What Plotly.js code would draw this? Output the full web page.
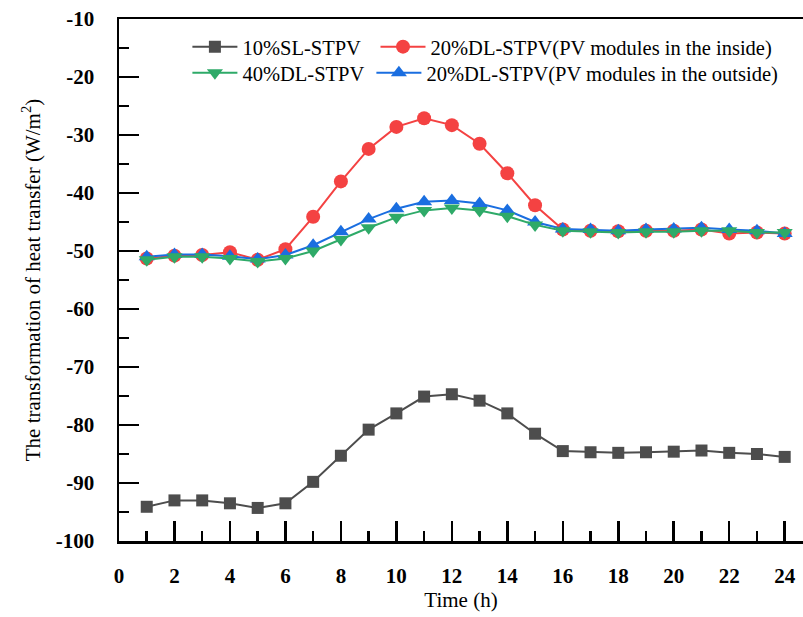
<!DOCTYPE html>
<html>
<head>
<meta charset="utf-8">
<script src="https://cdn.plot.ly/plotly-3.0.1.min.js"></script>
<style>html,body{margin:0;padding:0;background:#fff;}#chart{width:803px;height:617px;}</style>
</head>
<body>
<div id="chart"></div>
<script>
const hours = [1,2,3,4,5,6,7,8,9,10,11,12,13,14,15,16,17,18,19,20,21,22,23,24];
const sl10 = [-94.1,-93.0,-93.0,-93.5,-94.3,-93.5,-89.8,-85.3,-80.8,-78.0,-75.1,-74.7,-75.8,-78.0,-81.5,-84.5,-84.7,-84.8,-84.7,-84.6,-84.4,-84.8,-85.0,-85.5];
const dlInside = [-51.3,-50.8,-50.7,-50.2,-51.5,-49.7,-44.1,-38.0,-32.4,-28.6,-27.1,-28.3,-31.5,-36.6,-42.1,-46.3,-46.5,-46.6,-46.5,-46.5,-46.3,-47.0,-46.8,-47.0];
const dl40 = [-51.5,-51.0,-51.0,-51.3,-51.8,-51.3,-50.0,-48.0,-46.0,-44.2,-43.0,-42.6,-43.0,-44.0,-45.5,-46.5,-46.7,-46.8,-46.7,-46.7,-46.5,-46.5,-46.8,-46.8];
const dlOutside = [-51.0,-50.6,-50.6,-50.9,-51.4,-50.7,-49.0,-46.7,-44.5,-42.7,-41.5,-41.3,-41.8,-43.0,-45.0,-46.2,-46.3,-46.5,-46.3,-46.2,-46.0,-46.3,-46.5,-47.0];
const names = ["10%SL-STPV","20%DL-STPV(PV modules in the inside)","40%DL-STPV","20%DL-STPV(PV modules in the outside)"];
const xTicks = [0,2,4,6,8,10,12,14,16,18,20,22,24];
const yTicks = [-100,-90,-80,-70,-60,-50,-40,-30,-20,-10];

const font = "Liberation Serif, Times New Roman, serif";
function tr(y, name, color, symbol, size, legend) {
  return {x: hours, y: y, name: name, type: 'scatter', mode: 'lines+markers',
    line: {color: color, width: 2},
    marker: {color: color, symbol: symbol, size: size, line: {width: 0}},
    legend: legend};
}
const traces = [
  tr(sl10, names[0], '#4d4d4d', 'square', 12, 'legend'),
  tr(dlInside, names[1], '#f44242', 'circle', 14, 'legend2'),
  tr(dlOutside, names[3], '#1a6ee0', 'triangle-up', 14, 'legend4'),
  tr(dl40, names[2], '#2eaa68', 'triangle-down', 14, 'legend3')
];

function leg(x, y) {
  return {orientation: 'v', x: x, y: y, xanchor: 'left', yanchor: 'top',
    bgcolor: 'rgba(0,0,0,0)', font: {family: font, size: 20.5}, itemwidth: 45};
}

const layout = {
  width: 803, height: 617,
  margin: {l: 119, r: 0, t: 19, b: 76},
  paper_bgcolor: '#fff', plot_bgcolor: '#fff',
  font: {family: font, color: '#000'},
  showlegend: true,
  xaxis: {
    range: [0, 24.66], tickvals: xTicks, ticktext: xTicks.map(String),
    ticks: 'inside', ticklen: 20, tickwidth: 2.5, tickcolor: '#000',
    minor: {dtick: 1, tick0: 0, ticks: 'inside', ticklen: 10, tickwidth: 2.5, tickcolor: '#000'},
    showline: true, linewidth: 2.5, linecolor: '#000', mirror: true,
    showgrid: false, zeroline: false,
    tickfont: {family: font, size: 21, weight: 'bold'},
    ticklabelstandoff: 14,
    title: {text: 'Time (h)', font: {family: font, size: 21}, standoff: 5}
  },
  yaxis: {
    range: [-100, -10], tickvals: yTicks, ticktext: yTicks.map(String),
    ticks: 'inside', ticklen: 20, tickwidth: 2.5, tickcolor: '#000',
    minor: {dtick: 5, tick0: 0, ticks: 'inside', ticklen: 10, tickwidth: 2.5, tickcolor: '#000'},
    showline: true, linewidth: 2.5, linecolor: '#000',
    showgrid: false, zeroline: false,
    tickfont: {family: font, size: 21, weight: 'bold'},
    ticklabelstandoff: 18,
    title: {text: 'The transformation of heat transfer (W/m<sup>2</sup>)', font: {family: font, size: 21}, standoff: 10}
  },
  legend: leg(0.1, 0.985),
  legend2: leg(0.375, 0.985),
  legend3: leg(0.1, 0.935),
  legend4: leg(0.369, 0.935)
};
Plotly.newPlot('chart', traces, layout, {displayModeBar: false, staticPlot: true});
</script>
</body>
</html>
